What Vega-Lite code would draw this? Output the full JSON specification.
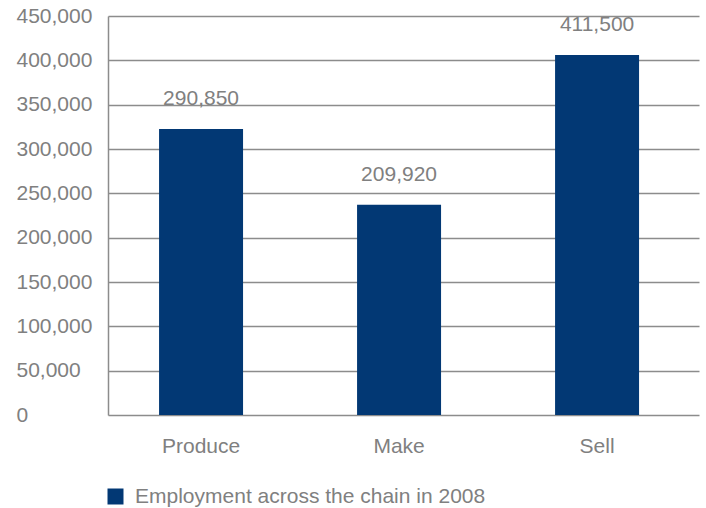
{
  "$schema": "https://vega.github.io/schema/vega-lite/v6.json",
  "width": 591,
  "height": 399,
  "autosize": "none",
  "padding": {"left": 108, "top": 16, "right": 7, "bottom": 93},
  "background": "white",
  "config": {"view": {"stroke": null}, "font": "Liberation Sans"},
  "data": {"values": [
    {"stage": "Produce", "employment": 322500, "label": 290850},
    {"stage": "Make", "employment": 237000, "label": 209920},
    {"stage": "Sell", "employment": 406000, "label": 411500}
  ]},
  "encoding": {
    "x": {
      "field": "stage", "type": "nominal", "sort": null,
      "scale": {"paddingInner": 0.5758, "paddingOuter": 0.2803, "align": 0.46},
      "axis": {"title": null, "domain": false, "ticks": false, "labelAngle": 0, "labelFontSize": 21, "labelColor": "#808080", "labelPadding": 20, "grid": false}
    },
    "y": {
      "field": "employment", "type": "quantitative",
      "scale": {"domain": [0, 450000], "nice": false},
      "axis": {"title": null, "values": [0, 50000, 100000, 150000, 200000, 250000, 300000, 350000, 400000, 450000], "labelExpr": "format(datum.value, ',')", "ticks": false, "labelAlign": "left", "labelPadding": 92, "labelFontSize": 21, "labelColor": "#808080", "gridColor": "#8c8c8c", "gridWidth": 1.5, "domainColor": "#8c8c8c", "domainWidth": 1.5}
    }
  },
  "layer": [
    {
      "mark": {"type": "bar", "color": "#023874"},
      "encoding": {
        "color": {
          "datum": "Employment across the chain in 2008",
          "scale": {"range": ["#023874"]},
          "legend": {"title": null, "orient": "none", "legendX": -3, "legendY": 470, "symbolType": "square", "symbolSize": 256, "symbolStrokeWidth": 0, "labelFontSize": 21, "labelColor": "#808080", "labelOffset": 9, "labelLimit": 0}
        }
      }
    },
    {
      "mark": {"type": "text", "dy": -30, "baseline": "middle", "fontSize": 21, "color": "#808080"},
      "encoding": {"text": {"field": "label", "type": "quantitative", "format": ","}}
    }
  ]
}
